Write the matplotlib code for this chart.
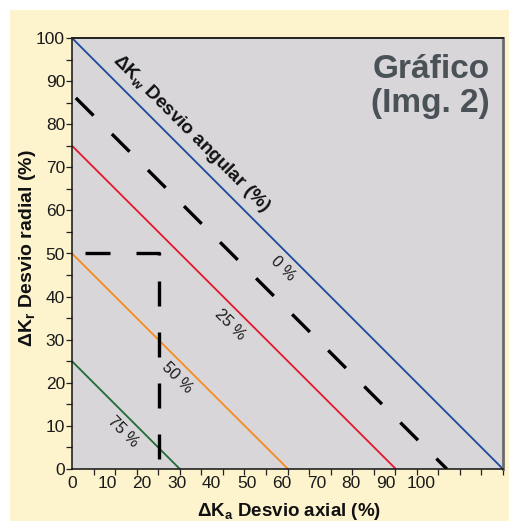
import matplotlib
matplotlib.use("Agg")
import matplotlib.pyplot as plt
import numpy as np
from matplotlib.patches import Rectangle

plt.rcParams['font.family'] = ['Liberation Sans', 'DejaVu Sans']
plt.rcParams['mathtext.fontset'] = 'custom'
plt.rcParams['mathtext.rm'] = 'Liberation Sans'
plt.rcParams['mathtext.bf'] = 'Liberation Sans:bold'

# angular deviation lines: radial intercept (y) and axial intercept (x)
angular_labels = ['0 %', '25 %', '50 %', '75 %']
radial_intercepts = [100, 75, 50, 25]
axial_intercepts = [123.5, 92.8, 61.9, 30.9]
line_colors = ['#1b4a98', '#e2182c', '#f98a1e', '#1f6b33']
label_x = [60.5, 45.3, 30.1, 14.6]
label_y = [46.6, 33.4, 21.1, 8.6]

# dashed example lines
diag_x = [1.1, 107.4]
diag_y = [86.1, 0]
corner_x = [3.7, 25, 25]
corner_y = [50, 50, 0]

x_ticklabels = [0, 10, 20, 30, 40, 50, 60, 70, 80, 90, 100]
y_ticklabels = [0, 10, 20, 30, 40, 50, 60, 70, 80, 90, 100]
x_max = 123.5

fig = plt.figure(figsize=(5.09, 5.21), dpi=100)
fig.patch.set_facecolor('white')
fig.patches.append(Rectangle((10 / 509, 0), 1, 1 - 10 / 521, transform=fig.transFigure,
                             facecolor='#fdf3cd', edgecolor='none', zorder=-10))

ax = fig.add_axes([72 / 509, 52 / 521, 431 / 509, 431 / 521])
ax.set_facecolor('#d8d6d9')

for y0, x0, c in zip(radial_intercepts, axial_intercepts, line_colors):
    ax.plot([0, x0], [y0, 0], color=c, lw=1.3, solid_capstyle='butt', clip_on=False)

dash_lw = 2.4
ax.plot(diag_x, diag_y, color='black', lw=dash_lw, linestyle=(0, (7.5, 7.8)))
ax.plot(corner_x, corner_y, color='black', lw=dash_lw, linestyle=(0, (7.5, 7.8)))

for txt, lx, ly in zip(angular_labels, label_x, label_y):
    ax.text(lx, ly, txt, rotation=-45, rotation_mode='anchor', ha='center', va='center',
            fontsize=11.5, color='#1a1a1a')

ax.text(34.3, 77.8, r'ΔK$_\mathbf{w}$ Desvio angular (%)', rotation=-45, rotation_mode='anchor',
        ha='center', va='center', fontsize=13.6, fontweight='bold', color='#111111')

ax.set_xlim(0, x_max)
ax.set_ylim(0, 100)

ax.set_xticks(x_ticklabels)
ax.set_xticklabels([str(v) for v in x_ticklabels])
ax.set_xticks(np.linspace(0, x_max, 21), minor=True)
ax.tick_params(axis='x', which='major', length=0, pad=5, labelsize=12.5, labelcolor='#1a1a1a')
ax.tick_params(axis='x', which='minor', length=4, width=0.9, color='#222222')

ax.set_yticks(y_ticklabels)
ax.set_yticks(np.arange(0, 101, 5), minor=True)
ax.tick_params(axis='y', which='major', length=4, width=0.9, pad=1, labelsize=12.5,
               labelcolor='#1a1a1a', color='#222222')
ax.tick_params(axis='y', which='minor', length=4, width=0.9, color='#222222')

for s in ['left', 'bottom']:
    ax.spines[s].set_color('#111111')
    ax.spines[s].set_linewidth(1.1)
ax.spines['top'].set_color('#222222')
ax.spines['top'].set_linewidth(1.4)
ax.spines['right'].set_color('#6a6a6a')
ax.spines['right'].set_linewidth(2.0)

fig.text(289 / 509, 1 - 511 / 521, r'ΔK$_\mathbf{a}$ Desvio axial (%)', ha='center', va='center',
         fontsize=13.5, fontweight='bold', color='#111111')
fig.text(28 / 509, 1 - 248 / 521, r'ΔK$_\mathbf{r}$ Desvio radial (%)', ha='center', va='center',
         rotation=90, fontsize=14, fontweight='bold', color='#111111')

fig.text(490 / 509, 1 - 78 / 521, 'Gráfico', ha='right', va='baseline',
         fontsize=24, fontweight='bold', color='#4a5157')
fig.text(490 / 509, 1 - 112 / 521, '(Img. 2)', ha='right', va='baseline',
         fontsize=24, fontweight='bold', color='#4a5157')

fig.savefig('out.png', dpi=100)
